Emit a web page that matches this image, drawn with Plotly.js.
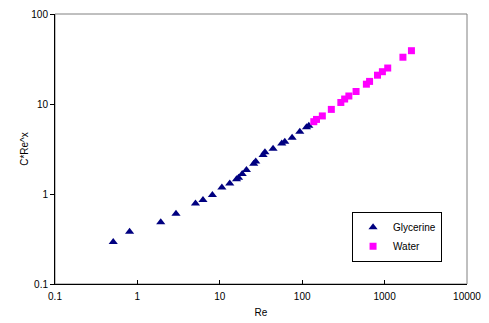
<!DOCTYPE html>
<html>
<head>
<meta charset="utf-8">
<script src="https://cdn.plot.ly/plotly-3.0.1.min.js"></script>
<style>html,body{margin:0;padding:0;background:#fff;}#chart{width:489px;height:323px;}</style>
</head>
<body>
<div id="chart"></div>
<script>
const glycerineRe = [0.509, 0.804, 1.92, 2.94, 5.07, 6.25, 8.13, 10.6, 13.2, 15.96, 16.9, 18.7, 21.05, 25.8, 27.3, 33.5, 35.3, 44.3, 56.5, 61.5, 75.4, 93.5, 112.8, 120.3];
const glycerineC  = [0.292, 0.381, 0.486, 0.604, 0.786, 0.86, 0.977, 1.184, 1.305, 1.457, 1.517, 1.668, 1.848, 2.17, 2.30, 2.71, 2.91, 3.19, 3.64, 3.81, 4.22, 4.92, 5.50, 5.74];
const waterRe = [138.3, 149.2, 175.5, 225.7, 294.4, 327.5, 368.3, 450.5, 601, 657, 820, 940, 1091, 1669, 2117];
const waterC  = [6.36, 6.74, 7.37, 8.71, 10.4, 11.36, 12.27, 13.77, 16.6, 17.83, 20.9, 22.85, 25.1, 33.1, 39.1];
const xTickVals = [0.1, 1, 10, 100, 1000, 10000];
const xTickText = ["0.1", "1", "10", "100", "1000", "10000"];
const yTickVals = [0.1, 1, 10, 100];
const yTickText = ["0.1", "1", "10", "100"];

const font = {family: "Liberation Sans, Arial, sans-serif", size: 10, color: "#000"};

const traces = [
  {x: glycerineRe, y: glycerineC, mode: "markers", type: "scatter", name: "Glycerine",
   marker: {symbol: "triangle-up", size: 8, color: "#000080"}},
  {x: waterRe, y: waterC, mode: "markers", type: "scatter", name: "Water",
   marker: {symbol: "square", size: 7, color: "#FF00FF"}}
];

const layout = {
  width: 489, height: 323,
  margin: {l: 55, r: 22, t: 14, b: 39, pad: 0},
  paper_bgcolor: "#fff", plot_bgcolor: "#fff",
  font: font,
  showlegend: true,
  legend: {x: 0.721, y: 0.268, xanchor: "left", yanchor: "top",
           bgcolor: "#fff", bordercolor: "#000", borderwidth: 1,
           font: font, itemwidth: 30, tracegroupgap: 0},
  xaxis: {type: "log", range: [-1, 4], tickmode: "array", tickvals: xTickVals, ticktext: xTickText,
          ticks: "inside", ticklen: 4, tickcolor: "#000", showgrid: false, zeroline: false,
          ticklabelstandoff: 3,
          showline: true, linecolor: "#000", linewidth: 1,
          title: {text: "Re", font: font, standoff: 7}},
  yaxis: {type: "log", range: [-1, 2], tickmode: "array", tickvals: yTickVals, ticktext: yTickText,
          ticks: "outside", ticklen: 4, tickcolor: "#000", showgrid: false, zeroline: false,
          showline: true, linecolor: "#000", linewidth: 1,
          title: {text: "C*Re^x", font: font, standoff: 0}},
  shapes: [{type: "rect", xref: "paper", yref: "paper", x0: 0, x1: 1, y0: 0, y1: 1,
            line: {color: "#808080", width: 1}, layer: "below"}]
};

Plotly.newPlot("chart", traces, layout, {displayModeBar: false, staticPlot: true});
</script>
</body>
</html>
